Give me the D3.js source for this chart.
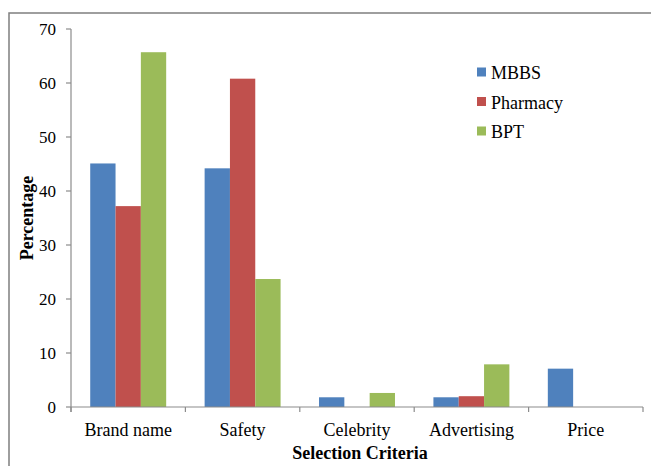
<!DOCTYPE html>
<html><head><meta charset="utf-8">
<script src="https://cdn.jsdelivr.net/npm/d3@7"></script>
<style>body{margin:0;background:#fff}svg{display:block}text{font-family:"Times New Roman","Liberation Serif",serif}</style>
</head><body>
<script>
const categories = ["Brand name", "Safety", "Celebrity", "Advertising", "Price"];
const seriesNames = ["MBBS", "Pharmacy", "BPT"];
const mbbs = [45.1, 44.2, 1.8, 1.8, 7.1];
const pharmacy = [37.2, 60.8, 0, 2.0, 0];
const bpt = [65.7, 23.7, 2.6, 7.9, 0];
const yTicks = [0, 10, 20, 30, 40, 50, 60, 70];
const colors = ["#4F81BD", "#C0504D", "#9BBB59"];
const seriesValues = [mbbs, pharmacy, bpt];

(function () {
const W = 651, H = 466;
const svg = d3.select("body").append("svg").attr("width", W).attr("height", H);

// outer border
svg.append("rect").attr("x", 9).attr("y", 13).attr("width", 700).attr("height", 500)
  .attr("fill", "none").attr("stroke", "#7f7f7f").attr("stroke-width", 1.5);

const mLeft = 71, mRight = 643, mTop = 29, mBottom = 407;
const x = d3.scaleBand().domain(categories).range([mLeft, mRight]).paddingInner(0.336).paddingOuter(0.168);
const xs = d3.scaleBand().domain(seriesNames).range([0, x.bandwidth()]);
const y = d3.scaleLinear().domain([0, 70]).range([mBottom, mTop]);

const axisColor = "#8c8c8c";
// y axis
svg.append("line").attr("x1", mLeft).attr("x2", mLeft).attr("y1", y(70)).attr("y2", mBottom + 5)
  .attr("stroke", axisColor).attr("stroke-width", 1.2);
svg.selectAll(".ytick").data(yTicks).enter().append("line")
  .attr("x1", mLeft - 5).attr("x2", mLeft).attr("y1", d => y(d)).attr("y2", d => y(d))
  .attr("stroke", axisColor).attr("stroke-width", 1.2);
svg.selectAll(".ylab").data(yTicks).enter().append("text")
  .attr("x", 56).attr("y", d => y(d)).attr("dy", "0.35em").attr("text-anchor", "end")
  .attr("font-size", 17).attr("fill", "#000").text(d => d);

// bars
seriesValues.forEach((vals, si) => {
  svg.selectAll(".bar" + si).data(vals).enter().append("rect")
    .attr("x", (d, i) => x(categories[i]) + xs(seriesNames[si]))
    .attr("width", xs.bandwidth())
    .attr("y", d => y(d)).attr("height", d => mBottom - y(d))
    .attr("fill", colors[si]);
});

// x axis
svg.append("line").attr("x1", mLeft).attr("x2", mRight).attr("y1", mBottom).attr("y2", mBottom)
  .attr("stroke", axisColor).attr("stroke-width", 1.2);
const step = x.step();
const bounds = d3.range(categories.length + 1).map(i => mLeft + i * step);
svg.selectAll(".xtick").data(bounds).enter().append("line")
  .attr("x1", d => d).attr("x2", d => d).attr("y1", mBottom).attr("y2", mBottom + 5)
  .attr("stroke", axisColor).attr("stroke-width", 1.2);
svg.selectAll(".xlab").data(categories).enter().append("text")
  .attr("x", d => x(d) + x.bandwidth() / 2).attr("y", 436).attr("text-anchor", "middle")
  .attr("font-size", 18).attr("fill", "#000").text(d => d);

// axis titles
svg.append("text").attr("x", 360).attr("y", 459).attr("text-anchor", "middle")
  .attr("font-size", 18).attr("font-weight", "bold").text("Selection Criteria");
svg.append("text").attr("transform", "translate(33,218) rotate(-90)").attr("text-anchor", "middle")
  .attr("font-size", 18).attr("font-weight", "bold").text("Percentage");

// legend
const lg = svg.append("g");
seriesNames.forEach((s, i) => {
  const cy = 72 + i * 29.5;
  lg.append("rect").attr("x", 477).attr("y", cy - 4.5).attr("width", 9).attr("height", 9).attr("fill", colors[i]);
  lg.append("text").attr("x", 491).attr("y", cy + 7).attr("font-size", 18)
    .attr("fill", "#000").text(s);
});
})();
</script>
</body></html>
